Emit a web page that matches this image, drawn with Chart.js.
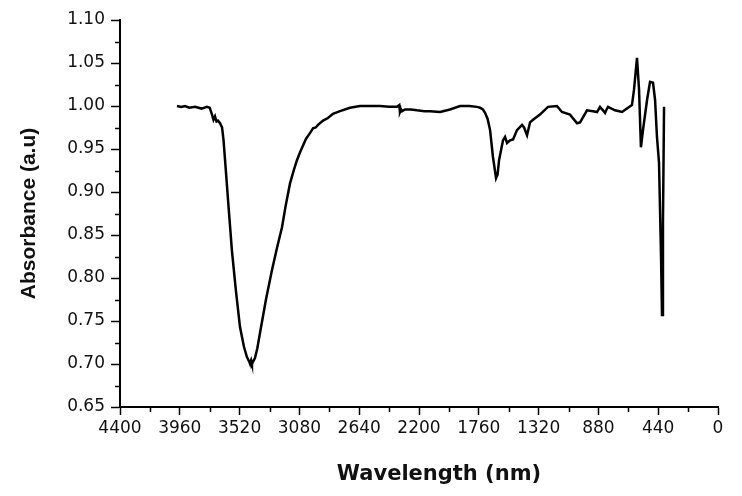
<!DOCTYPE html>
<html>
<head>
<meta charset="utf-8">
<title>Absorbance spectrum</title>
<script src="https://cdn.jsdelivr.net/npm/chart.js@4/dist/chart.umd.min.js"></script>
<style>
  html, body { margin: 0; padding: 0; background: #fff; }
  #wrap { width: 742px; height: 496px; }
</style>
</head>
<body>
<div id="wrap"><canvas id="specChart"></canvas></div>
<script>
// values
var wavelength = [
    3981, 3950, 3922, 3890, 3848, 3800, 3760, 3740, 3723, 3712,
    3701, 3690, 3679, 3664, 3649, 3638, 3627, 3600, 3576, 3547,
    3517, 3488, 3466, 3450, 3443, 3435, 3429, 3420, 3407, 3390,
    3370, 3326, 3282, 3245, 3208, 3180, 3149, 3120, 3098, 3076,
    3031, 3000, 2980, 2960, 2943, 2906, 2870, 2833, 2781, 2708,
    2634, 2560, 2487, 2420, 2362, 2345, 2340, 2332, 2325, 2303,
    2260, 2215, 2160, 2119, 2045, 1972, 1898, 1830, 1773, 1751,
    1730, 1714, 1695, 1677, 1656, 1633, 1622, 1611, 1582, 1567,
    1552, 1530, 1508, 1479, 1442, 1427, 1405, 1383, 1361, 1310,
    1251, 1185, 1148, 1089, 1037, 1015, 964, 920, 890, 868,
    831, 820, 809, 758, 706, 670, 633, 618, 596, 581,
    567, 552, 522, 500, 478, 463, 449, 434, 419, 412,
    405, 397
];
var absorbance = [
    1.000, 0.999, 1.000, 0.998, 0.999, 0.997, 0.999, 0.998, 0.990, 0.984,
    0.988, 0.982, 0.983, 0.980, 0.975, 0.960, 0.937, 0.880, 0.831, 0.785,
    0.743, 0.720, 0.708, 0.703, 0.700, 0.704, 0.700, 0.703, 0.707, 0.718,
    0.736, 0.775, 0.809, 0.835, 0.859, 0.885, 0.910, 0.926, 0.937, 0.946,
    0.962, 0.969, 0.974, 0.975, 0.978, 0.983, 0.986, 0.991, 0.994, 0.998,
    1.000, 1.000, 1.000, 0.999, 0.999, 1.001, 0.993, 0.996, 0.994, 0.996,
    0.996, 0.995, 0.994, 0.994, 0.993, 0.996, 1.000, 1.000, 0.999, 0.998,
    0.996, 0.992, 0.985, 0.972, 0.941, 0.916, 0.920, 0.937, 0.960, 0.964,
    0.957, 0.960, 0.961, 0.972, 0.978, 0.975, 0.966, 0.981, 0.984, 0.990,
    0.999, 1.000, 0.993, 0.990, 0.980, 0.981, 0.995, 0.994, 0.993, 0.999,
    0.992, 0.996, 0.999, 0.995, 0.993, 0.997, 1.001, 1.019, 1.056, 1.019,
    0.952, 0.972, 1.007, 1.028, 1.027, 1.007, 0.964, 0.934, 0.824, 0.757,
    0.864, 0.999
];

// axis ticks
var xMajor = [4400, 3960, 3520, 3080, 2640, 2200, 1760, 1320, 880, 440, 0];
var xMinor = [4180, 3740, 3300, 2860, 2420, 1980, 1540, 1100, 660, 220];
var yMajor = [0.65, 0.70, 0.75, 0.80, 0.85, 0.90, 0.95, 1.00, 1.05, 1.10];
var yMinor = [0.675, 0.725, 0.775, 0.825, 0.875, 0.925, 0.975, 1.025, 1.075];
var xTitle = 'Wavelength (nm)';

var points = wavelength.map(function (w, i) {
    return { x: w, y: absorbance[i] };
});

// short ticks between the labelled ones, and the x title sitting a bit right of centre
var axisExtras = {
    id: 'axisExtras',
    afterDraw: function (chart) {
        var ctx = chart.ctx, x = chart.scales.x, y = chart.scales.y;
        ctx.save();
        ctx.strokeStyle = '#000';
        ctx.lineWidth = 1.5;
        ctx.beginPath();
        xMinor.forEach(function (v) {
            var px = Math.round(x.getPixelForValue(v)) + 0.5;
            ctx.moveTo(px, x.top);
            ctx.lineTo(px, x.top + 5);
        });
        yMinor.forEach(function (v) {
            var py = Math.round(y.getPixelForValue(v)) + 0.5;
            ctx.moveTo(y.right, py);
            ctx.lineTo(y.right - 5, py);
        });
        ctx.stroke();

        ctx.fillStyle = '#111';
        ctx.font = 'bold 21px "DejaVu Sans"';
        ctx.textAlign = 'center';
        ctx.textBaseline = 'middle';
        ctx.fillText(xTitle, (x.left + x.right) / 2 + 20, x.bottom - 21);
        ctx.restore();
    }
};

var ctx = document.getElementById('specChart').getContext('2d');
var chart = new Chart(ctx, {
    type: 'line',
    data: {
        datasets: [{
            data: points,
            borderColor: '#000',
            borderWidth: 2.5,
            pointRadius: 0,
            tension: 0,
            fill: false
        }]
    },
    options: {
        responsive: true,
        maintainAspectRatio: false,
        animation: false,
        layout: { padding: { top: 20, right: 24, bottom: 0, left: 0 } },
        plugins: {
            legend: { display: false },
            tooltip: { enabled: false }
        },
        scales: {
            x: {
                type: 'linear',
                reverse: true,
                min: 0,
                max: 4400,
                afterBuildTicks: function (scale) {
                    scale.ticks = xMajor.map(function (v) { return { value: v }; });
                },
                afterFit: function (scale) { scale.height = 89; },
                border: { display: true, color: '#000', width: 2 },
                grid: { drawOnChartArea: false, drawTicks: true, tickLength: 8, tickColor: '#000', tickWidth: 1.5 },
                ticks: {
                    color: '#111',
                    padding: 3,
                    maxRotation: 0,
                    autoSkip: false,
                    font: { family: 'DejaVu Sans', size: 17 },
                    callback: function (v) { return String(v); }
                },
                title: { display: false }
            },
            y: {
                min: 0.65,
                max: 1.10,
                afterBuildTicks: function (scale) {
                    scale.ticks = yMajor.map(function (v) { return { value: v }; });
                },
                afterFit: function (scale) { scale.width = 120; },
                border: { display: true, color: '#000', width: 2 },
                grid: { drawOnChartArea: false, drawTicks: true, tickLength: 9, tickColor: '#000', tickWidth: 1.5 },
                ticks: {
                    color: '#111',
                    padding: 6,
                    autoSkip: false,
                    font: { family: 'DejaVu Sans', size: 17 },
                    callback: function (v) { return v.toFixed(2); }
                },
                title: {
                    display: true,
                    text: 'Absorbance (a.u)',
                    color: '#111',
                    font: { family: 'Liberation Sans', size: 21, weight: 'bold' },
                    padding: { top: 17, bottom: 0 }
                }
            }
        }
    },
    plugins: [axisExtras]
});
</script>
</body>
</html>
